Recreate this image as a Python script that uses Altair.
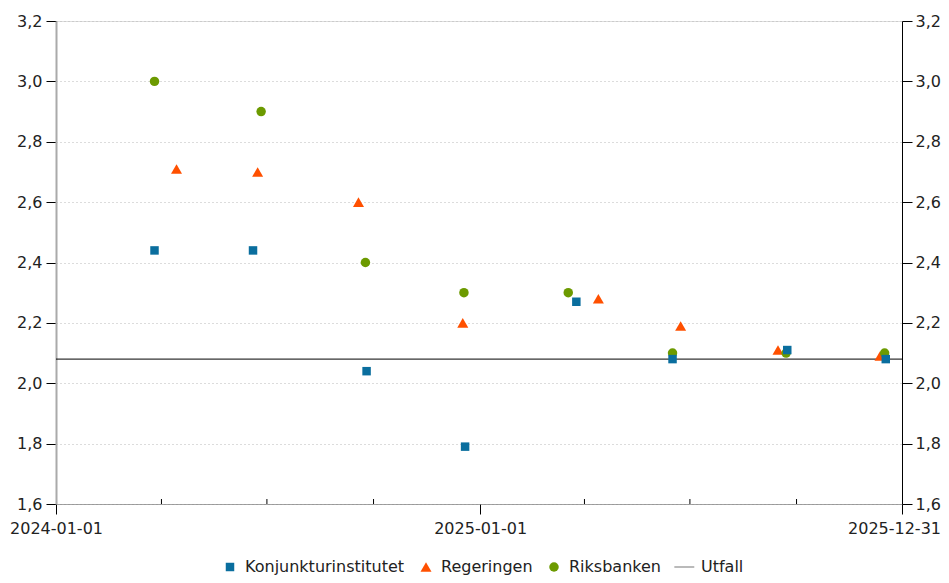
import altair as alt
import pandas as pd

series_names = ["Konjunkturinstitutet", "Regeringen", "Riksbanken", "Utfall"]
series_colors = ["#0a6e9e", "#ff5000", "#6c9a00", "#777777"]

ki_dates = ["2024-03-26", "2024-06-19", "2024-09-25", "2024-12-19",
            "2025-03-25", "2025-06-16", "2025-09-23", "2025-12-17"]
ki_values = [2.44, 2.44, 2.04, 1.79, 2.27, 2.08, 2.11, 2.08]

reg_dates = ["2024-04-14", "2024-06-23", "2024-09-18", "2024-12-17",
             "2025-04-13", "2025-06-23", "2025-09-15", "2025-12-12"]
reg_values = [2.71, 2.70, 2.60, 2.20, 2.28, 2.19, 2.11, 2.09]

riks_dates = ["2024-03-26", "2024-06-26", "2024-09-24", "2024-12-18",
              "2025-03-18", "2025-06-16", "2025-09-22", "2025-12-16"]
riks_values = [3.00, 2.90, 2.40, 2.30, 2.30, 2.10, 2.10, 2.10]

utfall_dates = ["2024-01-01", "2025-12-31"]
utfall_values = [2.08, 2.08]

minor_tick_dates = ["2024-04-01", "2024-07-01", "2024-10-01",
                    "2025-04-01", "2025-07-01", "2025-10-01"]
y_ticks = [1.6, 1.8, 2.0, 2.2, 2.4, 2.6, 2.8, 3.0, 3.2]

W, H = 846, 483
FONT = "DejaVu Sans"

# draw order: Regeringen, Riksbanken, Konjunkturinstitutet (on top)
points = pd.DataFrame({
    "date": reg_dates + riks_dates + ki_dates,
    "value": reg_values + riks_values + ki_values,
    "series": ["Regeringen"] * len(reg_dates) + ["Riksbanken"] * len(riks_dates)
              + ["Konjunkturinstitutet"] * len(ki_dates),
})
utfall = pd.DataFrame({"date": utfall_dates, "value": utfall_values, "series": "Utfall"})
minor = pd.DataFrame({"date": minor_tick_dates})


def dt(s):
    y, m, d = (int(p) for p in s.split("-"))
    return alt.DateTime(year=y, month=m, date=d, utc=True)


x_enc = alt.X(
    "date:T",
    scale=alt.Scale(type="utc", domain=[dt("2024-01-01"), dt("2025-12-31")]),
    axis=alt.Axis(
        values=[dt("2024-01-01"), dt("2025-01-01"), dt("2025-12-31")],
        labelExpr="utcFormat(datum.value, '%Y-%m-%d')",
        title=None, grid=False, tickSize=10, tickColor="black",
        domainColor="#666666", domainDash=[1, 1], labelPadding=6,
        labelFontSize=16, labelFont=FONT, labelColor="#222222",
        labelFlush=False, labelOverlap=False,
        labelOffset={"condition": {"test": "datum.value > 1760000000000", "value": -8},
                     "value": 0},
    ),
)

y_scale = alt.Scale(domain=[1.6, 3.2], nice=False, zero=False)
label_expr = "replace(format(datum.value, '.1f'), '.', ',')"

line = alt.Chart(utfall).mark_line(color="black", strokeWidth=1).encode(
    x=x_enc,
    y=alt.Y("value:Q", scale=y_scale,
            axis=alt.Axis(orient="right", values=y_ticks, labelExpr=label_expr,
                          title=None, grid=False, tickSize=10, tickColor="black",
                          domainColor="black", domainWidth=1, labelPadding=3,
                          labelFontSize=16, labelFont=FONT, labelColor="#222222")),
)

custom_line_symbol = "M-2.75,-0.12H1.95V0.12H-2.75Z"

legend = alt.Legend(title=None, orient="none", legendX=166, legendY=538,
                    direction="horizontal",
                    labelFontSize=16, labelFont=FONT, labelColor="#222222",
                    columnPadding=13, labelOffset=7, padding=0)

pts = alt.Chart(points).mark_point(filled=True, opacity=1).encode(
    x=x_enc,
    y=alt.Y("value:Q", scale=y_scale,
            axis=alt.Axis(orient="left", values=y_ticks, labelExpr=label_expr,
                          title=None, grid=True, gridDash=[1, 3], gridColor="#b8b8b8",
                          tickSize=10, tickColor="black",
                          domainColor="#aaaaaa", domainWidth=2, labelPadding=4,
                          labelFontSize=16, labelFont=FONT, labelColor="#222222")),
    color=alt.Color("series:N",
                    scale=alt.Scale(domain=series_names, range=series_colors),
                    legend=legend),
    shape=alt.Shape("series:N",
                    scale=alt.Scale(domain=series_names,
                                    range=["square", "triangle-up", "circle", custom_line_symbol]),
                    legend=legend),
    size=alt.Size("series:N",
                  scale=alt.Scale(type="ordinal", domain=series_names,
                                  range=[72, 121, 90, 72]),
                  legend=legend),
)

ticks = alt.Chart(minor).mark_rule(color="black", strokeWidth=1).encode(
    x=x_enc,
    y=alt.value(H - 5),
    y2=alt.value(H),
)

chart = alt.layer(line, pts, ticks).resolve_axis(y="independent").properties(
    width=W, height=H,
    padding={"left": 48, "top": 13, "right": 39, "bottom": 71},
    autosize=alt.AutoSizeParams(type="none"),
).configure_view(stroke=None).configure(font=FONT)

chart.save("out.html", embed_options={"renderer": "svg", "actions": False})
